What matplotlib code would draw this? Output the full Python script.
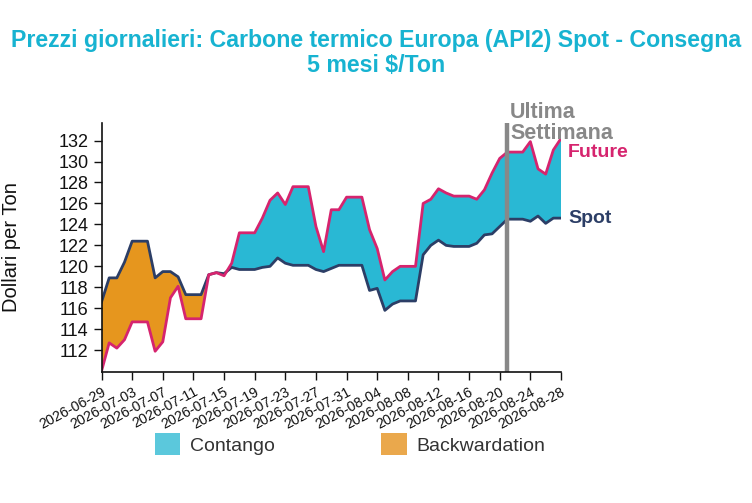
import pandas as pd
import matplotlib
matplotlib.use("Agg")
import matplotlib.pyplot as plt
import matplotlib.dates as mdates
from matplotlib.patches import Patch

plt.rcParams['font.family'] = ['Liberation Sans', 'DejaVu Sans']

# daily values
dates = pd.date_range("2026-06-29", "2026-08-28", freq="D")
spot = [116.6, 118.9, 118.9, 120.4, 122.4, 122.4, 122.4, 118.9, 119.5, 119.5,
        119.0, 117.3, 117.3, 117.3, 119.2, 119.4, 119.3, 119.9, 119.7, 119.7,
        119.7, 119.9, 120.0, 120.8, 120.3, 120.1, 120.1, 120.1, 119.7, 119.5,
        119.8, 120.1, 120.1, 120.1, 120.1, 117.7, 117.9, 115.8, 116.4, 116.7,
        116.7, 116.7, 121.1, 122.0, 122.5, 122.0, 121.9, 121.9, 121.9, 122.2,
        123.0, 123.1, 123.8, 124.5, 124.5, 124.5, 124.3, 124.8, 124.1, 124.6,
        124.6]
future = [110.0, 112.7, 112.2, 113.0, 114.7, 114.7, 114.7, 111.9, 112.8, 117.0,
          118.1, 115.0, 115.0, 115.0, 119.2, 119.4, 119.1, 120.3, 123.2, 123.2,
          123.2, 124.6, 126.3, 127.0, 125.9, 127.6, 127.6, 127.6, 123.8, 121.4,
          125.4, 125.4, 126.6, 126.6, 126.6, 123.5, 121.7, 118.7, 119.5, 120.0,
          120.0, 120.0, 126.0, 126.4, 127.4, 127.0, 126.7, 126.7, 126.7, 126.4,
          127.3, 128.9, 130.3, 130.9, 130.9, 130.9, 131.9, 129.3, 128.8, 131.1,
          132.2]
last_week = pd.Timestamp("2026-08-21")
yticks = list(range(112, 133, 2))

C_CONT = "#29b8d4"
C_BACK = "#e6961e"
C_FUT = "#d6246e"
C_SPOT = "#2c3e66"

fig = plt.figure(figsize=(7.52, 5.03), dpi=100)
ax = fig.add_axes([0.135, 0.26, 0.611, 0.496])

s = pd.Series(spot, index=dates)
f = pd.Series(future, index=dates)
ax.fill_between(dates, s, f, where=(f >= s), interpolate=True, color=C_CONT, lw=0)
ax.fill_between(dates, s, f, where=(f < s), interpolate=True, color=C_BACK, lw=0)
ax.plot(dates, spot, color=C_SPOT, lw=2.0, solid_joinstyle="round")
ax.plot(dates, future, color=C_FUT, lw=2.0, solid_joinstyle="round")

ax.axvline(last_week, color="#888888", lw=3.2)
ax.text(last_week + pd.Timedelta(hours=8), 1.0, "Ultima\nSettimana",
        transform=ax.get_xaxis_transform(), ha="left", va="center",
        fontsize=15.5, fontweight="bold", color="#888888", linespacing=1.0,
        clip_on=False)

ax.annotate("Future", xy=(dates[-1], future[-1]), xytext=(5, -10),
            textcoords="offset points", ha="left", va="center",
            fontsize=14, fontweight="bold", color=C_FUT, annotation_clip=False)
ax.annotate("Spot", xy=(dates[-1], spot[-1]), xytext=(5, 0),
            textcoords="offset points", ha="left", va="center",
            fontsize=14, fontweight="bold", color=C_SPOT, annotation_clip=False)

ax.set_xlim(dates[0], dates[-1])
ax.set_ylim(109.9, 133.7)
ax.set_yticks(yticks)
ax.set_xticks(dates[::4])
ax.xaxis.set_major_formatter(mdates.DateFormatter("%Y-%m-%d"))
for lab in ax.get_xticklabels():
    lab.set_rotation(28)
    lab.set_ha("right")
    lab.set_rotation_mode("anchor")
ax.tick_params(axis="x", labelsize=10.3, length=6, width=1, pad=3, colors="#111111")
ax.tick_params(axis="y", labelsize=13, length=6, width=1, pad=3.5, colors="#111111")
for sp in ["top", "right"]:
    ax.spines[sp].set_visible(False)
for sp in ["left", "bottom"]:
    ax.spines[sp].set_color("#111111")
    ax.spines[sp].set_linewidth(1.2)

ax.set_ylabel("Dollari per Ton", fontsize=14.5, color="#111111")
ax.yaxis.set_label_coords(-0.176, 0.5)

fig.text(0.5, 0.895, "Prezzi giornalieri: Carbone termico Europa (API2) Spot - Consegna\n5 mesi $/Ton",
         ha="center", va="center", fontsize=16.7, fontweight="bold",
         color="#17b3d1", linespacing=1.1)

handles = [Patch(facecolor="#5bc8dc", edgecolor="none", label="Contango"),
           Patch(facecolor="#eaa84c", edgecolor="none", label="Backwardation")]
leg = fig.legend(handles=handles, loc="center", bbox_to_anchor=(350 / 752, 1 - 444 / 503),
                 ncol=2, frameon=False, fontsize=14, handlelength=1.3, handleheight=1.3,
                 handletextpad=0.5, columnspacing=5.5)
for t in leg.get_texts():
    t.set_color("#333333")

fig.savefig("out.png", dpi=100)
